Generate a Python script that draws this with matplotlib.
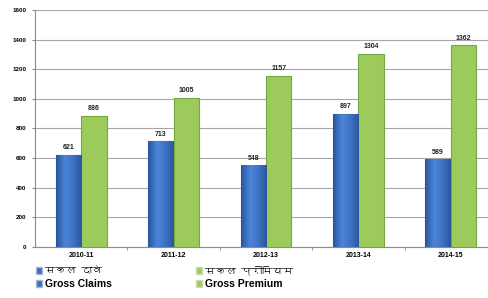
import numpy as np
import matplotlib.pyplot as plt
from matplotlib import font_manager
from matplotlib.ft2font import FT2Font
from matplotlib.patches import Patch

years = ["2010-11", "2011-12", "2012-13", "2013-14", "2014-15"]
gross_claims = [621, 713, 548, 897, 589]
gross_premium = [886, 1005, 1157, 1304, 1362]
legend_labels = ["सकल दावे", "Gross Claims", "सकल प्रीमियम", "Gross Premium"]


def find_devanagari_font():
    # look for any installed font that has Devanagari glyphs
    for f in font_manager.fontManager.ttflist:
        try:
            if 0x0915 in FT2Font(f.fname).get_charmap():
                return f.name
        except Exception:
            continue
    return None


deva = find_devanagari_font()
hindi_family = [deva, "DejaVu Sans"] if deva else ["DejaVu Sans"]
plt.rcParams["font.family"] = ["Liberation Sans", "DejaVu Sans"]

fig = plt.figure(figsize=(4.89, 2.98), dpi=100)
ax = fig.add_axes([35 / 489, 51.3 / 298, 462 / 489, 236.7 / 298])

x = np.arange(len(years))
w = 0.275
blue = ax.bar(x - w / 2, gross_claims, w, color="#3b6fbf", edgecolor="#2c5591",
              linewidth=0.8, zorder=3)
green = ax.bar(x + w / 2, gross_premium, w, color="#9ccb5c", edgecolor="#74a83e",
               linewidth=0.8, zorder=3)

# horizontal shading on the blue bars (dark edges, lighter middle)
cols = np.array([[0.16, 0.33, 0.62], [0.30, 0.52, 0.85], [0.24, 0.44, 0.76],
                 [0.17, 0.34, 0.62]])
pos = np.interp(np.linspace(0, 1, 40), [0, 0.35, 0.7, 1], [0, 1, 2, 3])
rgb = np.array([np.interp(pos, range(4), cols[:, c]) for c in range(3)]).T
for rect in blue:
    bx = rect.get_x()
    ax.imshow(rgb[np.newaxis, :, :], extent=[bx, bx + rect.get_width(), 0, rect.get_height()],
              aspect="auto", zorder=3.2)

for rect, v in zip(list(blue) + list(green), gross_claims + gross_premium):
    ax.text(rect.get_x() + rect.get_width() / 2, v + 25, str(v), ha="center", va="bottom",
            fontsize=5, fontweight="bold", color="#222222")

ax.set_xlim(-0.5, len(years) - 0.5)
ax.set_ylim(0, 1600)
ax.set_yticks(range(0, 1601, 200))
ax.set_xticks(x)
ax.set_xticklabels(years, fontsize=5, fontweight="bold")
ax.set_xticks(np.arange(0.5, len(years) - 1, 1), minor=True)
ax.tick_params(axis="x", which="major", length=0, pad=4)
ax.tick_params(axis="x", which="minor", length=2, color="#888888")
ax.tick_params(axis="y", labelsize=4.5, length=2, color="#888888", pad=4)
for lab in ax.get_yticklabels():
    lab.set_fontweight("bold")
ax.grid(axis="y", color="#a6a6a6", linewidth=0.8, zorder=0)
for s in ["top", "right"]:
    ax.spines[s].set_visible(False)
ax.spines["left"].set_color("#8c8c8c")
ax.spines["bottom"].set_color("#8c8c8c")

handles = [Patch(facecolor="#3b6fbf", edgecolor="#aab8d0"),
           Patch(facecolor="#3b6fbf", edgecolor="#aab8d0"),
           Patch(facecolor="#9ccb5c", edgecolor="#c8dcb0"),
           Patch(facecolor="#9ccb5c", edgecolor="#c8dcb0")]
leg = fig.legend(handles, legend_labels, ncol=2, loc="upper left",
                 bbox_to_anchor=(36 / 489, 1 - 265 / 298), frameon=False,
                 prop={"size": 7.5}, handlelength=0.6, handleheight=0.6,
                 handletextpad=0.3, columnspacing=8.0, labelspacing=0.4,
                 borderaxespad=0, borderpad=0)
for i, t in enumerate(leg.get_texts()):
    if i % 2 == 0:
        t.set_family(hindi_family)
        t.set_fontsize(7.5)
    else:
        t.set_fontweight("bold")

fig.savefig("out.png", dpi=100)
